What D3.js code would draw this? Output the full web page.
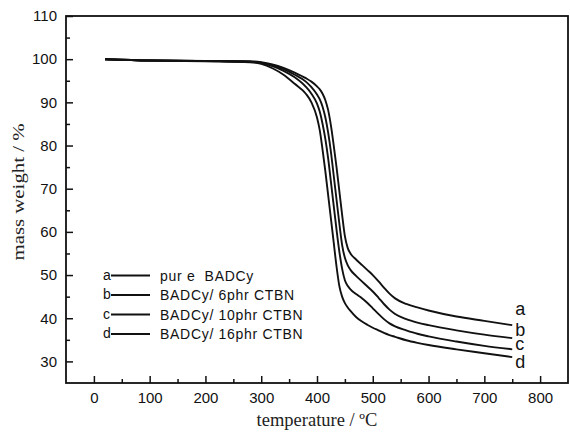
<!DOCTYPE html>
<html><head><meta charset="utf-8">
<script src="https://cdn.jsdelivr.net/npm/d3@7"></script>
<style>body{margin:0;background:#fff}svg{display:block}</style>
</head><body><svg id="c" width="570" height="437"></svg>
<script>
const temps = [20,100,200,280,300,320,340,360,380,390,400,405,410,415,420,425,430,435,440,445,450,455,460,470,480,490,500,510,520,530,540,560,580,600,650,700,750];
const seriesA = [100,99.7,99.6,99.5,99.3,98.8,98.0,96.9,95.6,94.8,93.7,93.0,92.0,90.5,88.2,84.6,80.0,75.0,69.5,64.0,59.0,56.3,55.0,53.6,52.4,51.2,50.0,48.6,47.1,45.7,44.6,43.3,42.5,41.8,40.4,39.4,38.4];
const seriesB = [100,99.7,99.6,99.5,99.2,98.6,97.7,96.4,94.8,93.5,91.8,90.7,89.0,86.5,83.0,78.5,73.0,67.5,62.0,57.0,54.0,52.3,51.2,49.8,48.6,47.4,46.2,44.8,43.3,42.0,41.0,39.8,39.0,38.4,37.2,36.2,35.4];
const seriesC = [100,99.7,99.6,99.4,99.1,98.4,97.3,95.8,93.6,92.0,89.7,87.8,85.0,81.5,77.0,71.5,66.0,60.5,55.5,51.5,48.8,47.5,46.7,45.6,44.7,43.6,42.3,41.0,39.8,38.8,38.1,37.2,36.4,35.8,34.6,33.6,32.8];
const seriesD = [100,99.7,99.5,99.3,98.9,97.9,96.4,94.3,92.0,90.0,86.5,83.5,79.0,74.0,68.5,63.0,57.5,52.0,47.5,45.0,43.5,42.5,41.7,40.3,39.3,38.5,37.8,37.2,36.6,36.1,35.7,34.9,34.3,33.8,32.8,31.9,31.0];
const seriesKeys = ["a","b","c","d"];
const legendLabels = ["pur e  BADCy","BADCy/ 6phr CTBN","BADCy/ 10phr CTBN","BADCy/ 16phr CTBN"];
const xTicks = [0,100,200,300,400,500,600,700,800];
const yTicks = [30,40,50,60,70,80,90,100,110];
const xLabel = "temperature / ºC";
const yLabel = "mass weight / %";

const series = [seriesA, seriesB, seriesC, seriesD];
const L=66, R=568, T=16, B=383;
const svg = d3.select("#c");
const x = d3.scaleLinear().domain([-50,850]).range([L,R]);
const y = d3.scaleLinear().domain([25,110]).range([B,T]);
const sans = "'Liberation Sans', Arial, sans-serif";
const serif = "'Liberation Serif', 'Times New Roman', serif";

const xMinor = d3.range(50, 800, 100);
const yMinor = d3.range(35, 110, 10);
const gx = svg.append("g").attr("transform",`translate(0,${B})`)
  .call(d3.axisBottom(x).tickValues(xTicks).tickSize(-7).tickPadding(9).tickFormat(d3.format("d")));
const gxm = svg.append("g").attr("transform",`translate(0,${B})`)
  .call(d3.axisBottom(x).tickValues(xMinor).tickSize(-4).tickFormat(""));
const gy = svg.append("g").attr("transform",`translate(${L},0)`)
  .call(d3.axisLeft(y).tickValues(yTicks).tickSize(-7).tickPadding(9).tickFormat(d3.format("d")));
const gym = svg.append("g").attr("transform",`translate(${L},0)`)
  .call(d3.axisLeft(y).tickValues(yMinor).tickSize(-4).tickFormat(""));
[gx,gxm,gy,gym].forEach(g=>{
  g.select(".domain").remove();
  g.selectAll(".tick line").attr("stroke","#111").attr("stroke-width",1.5);
  g.selectAll("text").attr("font-family",sans).attr("font-size",15).attr("fill","#111");
});

svg.append("rect").attr("x",L).attr("y",T).attr("width",R-L).attr("height",B-T)
  .attr("fill","none").attr("stroke","#111").attr("stroke-width",1.8);

const line = d3.line().x((d,i)=>x(temps[i])).y(d=>y(d)).curve(d3.curveMonotoneX);
svg.append("g").selectAll("path").data(series).join("path")
  .attr("d", d=>line(d)).attr("fill","none").attr("stroke","#111").attr("stroke-width",1.9);

// end labels (offset from each series' last point)
const endOffsets = [-10.5, -2.5, 1, 11];
svg.append("g").selectAll("text").data(series).join("text")
  .attr("x", x(750)+3).attr("y",(d,i)=>y(d[d.length-1])+endOffsets[i])
  .attr("font-family",sans).attr("font-size",18).attr("fill","#111")
  .text((d,i)=>seriesKeys[i]);

const lg = svg.append("g");
const rowY = [275.5,295,314.5,334];
seriesKeys.forEach((k,i)=>{
  lg.append("text").attr("x",103).attr("y",rowY[i]+4).attr("font-family",sans).attr("font-size",14).attr("fill","#111").text(k);
  lg.append("line").attr("x1",111).attr("x2",150).attr("y1",rowY[i]).attr("y2",rowY[i]).attr("stroke","#111").attr("stroke-width",1.9);
  lg.append("text").attr("x",160).attr("y",rowY[i]+5).attr("font-family",sans).attr("font-size",14)
    .attr("letter-spacing",0.7).attr("fill","#111")
    .style("white-space","pre").text(legendLabels[i]);
});

svg.append("text").attr("x",(L+R)/2).attr("y",426).attr("text-anchor","middle")
  .attr("font-family",serif).attr("font-size",18.5).attr("fill","#222").text(xLabel);
svg.append("text").attr("transform","translate(24,192) rotate(-90)").attr("text-anchor","middle")
  .attr("font-family",serif).attr("font-size",17).attr("fill","#222")
  .attr("textLength",137).attr("lengthAdjust","spacingAndGlyphs").text(yLabel);
</script></body></html>
